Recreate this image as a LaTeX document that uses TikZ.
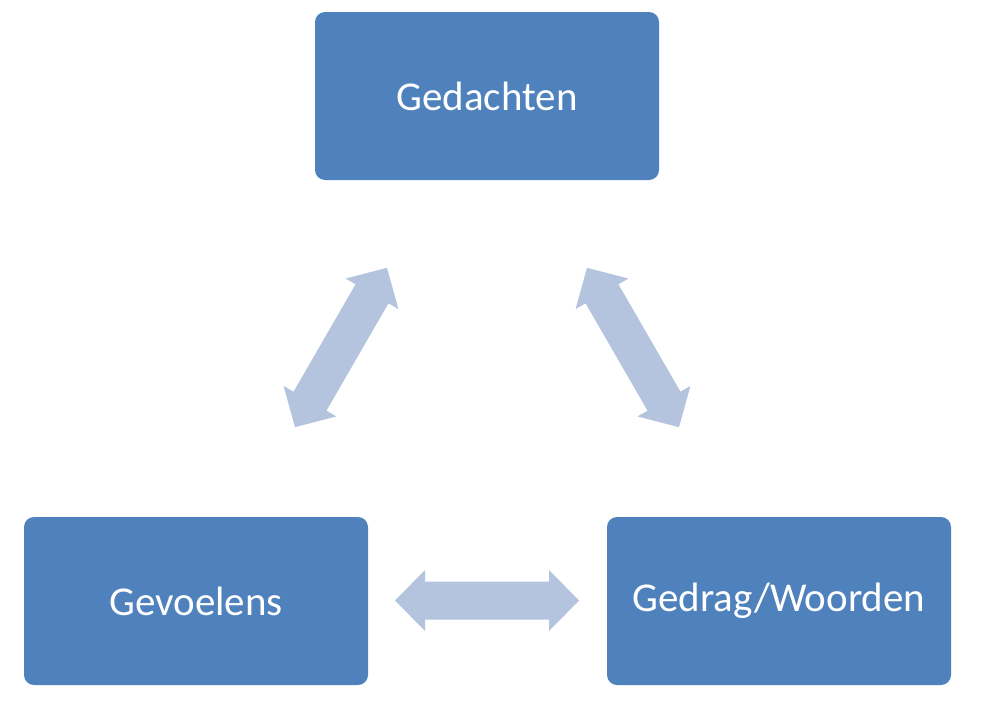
\documentclass[tikz,border=0pt]{standalone}
\usepackage{fontspec}
\setmainfont{Carlito}
\definecolor{boxblue}{HTML}{4F81BD}
\definecolor{arrowblue}{HTML}{B4C3DE}
\tikzset{
  box/.style={fill=boxblue, rounded corners=10pt, minimum width=344pt, minimum height=168pt, inner sep=0pt, text=white, font=\fontsize{41}{49}\selectfont},
  dblarrow/.pic={\fill[arrowblue] (-92,0) -- (-62,30.5) -- (-62,19) -- (62,19) -- (62,30.5) -- (92,0) -- (62,-30.5) -- (62,-19) -- (-62,-19) -- (-62,-30.5) -- cycle;}
}
\begin{document}
\begin{tikzpicture}[x=1pt,y=-1pt]
\useasboundingbox (0,0) rectangle (981,712);
\node[box] (ged) at (487,96) {Gedachten};
\node[box] (gev) at (196,601) {Gevoelens};
\node[box] (gdr) at (779,601) {Gedrag/Woorden};
\pic[rotate=60] at (341,347.5) {dblarrow};
\pic[rotate=120] at (633,347.5) {dblarrow};
\pic at (487,600.5) {dblarrow};
\end{tikzpicture}
\end{document}
